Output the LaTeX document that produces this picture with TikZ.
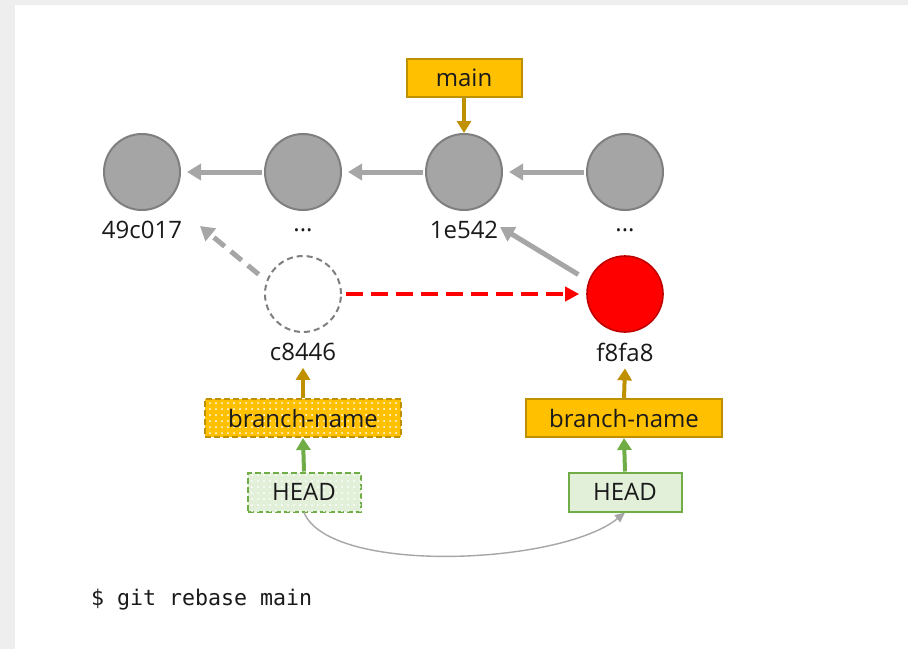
\documentclass[tikz,border=0pt]{standalone}
\usepackage{fontspec}
\setmainfont{Open Sans}
\setmonofont{DejaVu Sans Mono}
\usetikzlibrary{arrows.meta, patterns}

\definecolor{commitgray}{HTML}{A5A5A5}
\definecolor{commitline}{HTML}{7F7F7F}
\definecolor{linkgray}{HTML}{A6A6A6}
\definecolor{branchfill}{HTML}{FFC000}
\definecolor{branchline}{HTML}{BF9000}
\definecolor{headfill}{HTML}{E2F0D9}
\definecolor{headline}{HTML}{70AD47}
\definecolor{newred}{HTML}{FF0000}
\definecolor{newredline}{HTML}{C00000}
\definecolor{textdark}{HTML}{1A1A1A}

\tikzset{
    commit/.style={circle, minimum size=38pt, inner sep=0pt, fill=commitgray, draw=commitline, line width=1pt},
    ghostcommit/.style={circle, minimum size=38pt, inner sep=0pt, fill=white, draw=commitline, line width=1pt, dash pattern=on 3pt off 2pt},
    newcommit/.style={circle, minimum size=38pt, inner sep=0pt, fill=newred, draw=newredline, line width=0.8pt},
    hashlabel/.style={text=textdark, font=\fontsize{12}{14}\selectfont},
    branchbox/.style={rectangle, fill=branchfill, draw=branchline, line width=1pt, text=textdark, font=\fontsize{12}{14}\selectfont, minimum height=19pt, inner sep=0pt},
    headbox/.style={rectangle, fill=headfill, draw=headline, line width=1pt, text=textdark, font=\fontsize{12}{14}\selectfont, minimum width=56.5pt, minimum height=19.5pt, inner sep=0pt},
    oldbox/.style={dash pattern=on 3pt off 1.5pt, postaction={pattern=dots, pattern color=white}},
    parent/.style={draw=linkgray, line width=2.5pt, -{Triangle[length=7pt, width=8pt]}, shorten >=3pt, shorten <=1pt},
    pointer/.style={draw=branchline, line width=2pt, -{Triangle[length=6pt, width=7pt]}},
    headpointer/.style={draw=headline, line width=2pt, -{Triangle[length=6pt, width=7pt]}},
    moveline/.style={draw=linkgray, line width=0.7pt, -{Triangle[length=5pt, width=4.5pt]}}
}

\begin{document}
\begin{tikzpicture}[x=0.5pt, y=-0.5pt]
    % Frame
    \useasboundingbox (0,0) rectangle (908,649);
    \fill[gray!13] (0,0) rectangle (908,649);
    \fill[white] (15,5) rectangle (908,649);

    % Commits on main
    \node[commit] (c1) at (142,172) {};
    \node[commit] (c2) at (303,172) {};
    \node[commit] (c3) at (464,172) {};
    \node[commit] (c4) at (625,172) {};

    \node[hashlabel] (l1) at (142,230) {49c017};
    \node[hashlabel] (l2) at (303,230) {...};
    \node[hashlabel] (l3) at (464,230) {1e542};
    \node[hashlabel] (l4) at (625,230) {...};

    \draw[parent] (c2) -- (c1);
    \draw[parent] (c3) -- (c2);
    \draw[parent] (c4) -- (c3);

    % main branch
    \node[branchbox, minimum width=57.5pt] (main) at (464,78) {main};
    \draw[pointer] (main.south) -- (c3.north);

    % Old and rebased commit
    \node[ghostcommit] (c8446) at (303,294) {};
    \node[newcommit] (f8fa8) at (625,294) {};
    \node[hashlabel] (lold) at (303,352) {c8446};
    \node[hashlabel] (lnew) at (625,352) {f8fa8};

    \coordinate (t49) at (200,226);
    \coordinate (t1e) at (500,227);
    \draw[parent, dash pattern=on 7pt off 4pt, shorten <=5pt, shorten >=0pt] (c8446.160) -- (t49);
    \draw[parent, shorten <=6pt, shorten >=0pt] (f8fa8.160) -- (t1e);
    \draw[draw=newred, line width=2pt, dash pattern=on 8.5pt off 4pt, -{Triangle[length=7pt, width=7pt]}, shorten <=2pt, shorten >=3.5pt] (c8446) -- (f8fa8);

    % Branch boxes
    \node[branchbox, oldbox, minimum width=98pt] (bold) at (303,418) {branch-name};
    \node[branchbox, minimum width=98pt] (bnew) at (624,418) {branch-name};
    \draw[pointer] (bold.north) -- (lold.south);
    \draw[pointer] (bnew.north) -- (lnew.south);

    % HEAD
    \node[headbox, oldbox] (hold) at (304,492) {HEAD};
    \node[headbox] (hnew) at (625,492) {HEAD};
    \draw[headpointer] (hold.north) -- (bold.south);
    \draw[headpointer] (hnew.north) -- (bnew.south);
    \draw[moveline] (hold.south) .. controls (330,575) and (560,565) .. (hnew.south);

    % Command
    \node[anchor=west, text=textdark, font=\ttfamily\fontsize{10.8}{13}\selectfont] (cmd) at (84,600) {\$ git rebase main};

\end{tikzpicture}
\end{document}
